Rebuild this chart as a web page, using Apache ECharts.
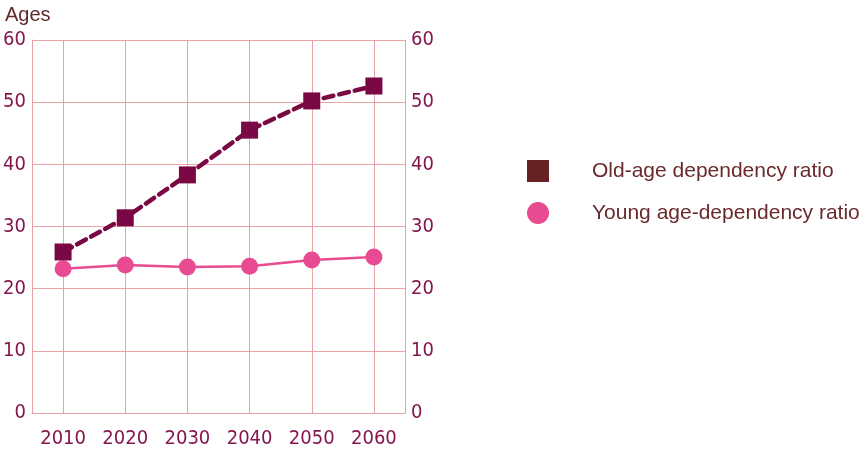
<!DOCTYPE html>
<html><head><meta charset="utf-8">
<script src="https://cdn.jsdelivr.net/npm/echarts@6/dist/echarts.min.js"></script>
<style>html,body{margin:0;padding:0;background:#fff}#c{width:866px;height:452px}</style>
</head><body><div id="c"></div>
<script>
const years = ['2010','2020','2030','2040','2050','2060'];
const oldAge = [25.9, 31.4, 38.3, 45.5, 50.2, 52.6];
const young = [23.2, 23.8, 23.5, 23.6, 24.6, 25.1];
const yTicks = [0, 10, 20, 30, 40, 50, 60];
const seriesNames = ['Old-age dependency ratio', 'Young age-dependency ratio'];
const axisTitle = 'Ages';

const gridColor = '#eaa4a8';
const labelColor = '#85174f';
const numFont = '"DejaVu Sans Condensed",sans-serif';

const chart = echarts.init(document.getElementById('c'), null, {renderer: 'canvas'});
const yAxisBase = {
  type: 'value', min: yTicks[0], max: yTicks[yTicks.length - 1], interval: 10,
  axisLine: {show: true, lineStyle: {color: gridColor, width: 1}},
  axisTick: {show: false},
  splitLine: {show: true, lineStyle: {color: gridColor, width: 1}},
  axisLabel: {color: labelColor, fontFamily: numFont, fontSize: 20, margin: 6}
};
chart.setOption({
  animation: false,
  grid: {left: 32, right: 461, top: 40, bottom: 39},
  title: {text: axisTitle, left: 0, top: 0, textStyle: {fontFamily: 'Liberation Sans, Arial, sans-serif', fontWeight: 'normal', fontSize: 20, color: '#5e2a2a'}},
  legend: {
    orient: 'vertical', left: 522, top: 155, itemWidth: 22, itemHeight: 22, itemGap: 20,
    textStyle: {fontFamily: 'Liberation Sans, Arial, sans-serif', fontSize: 21, color: '#6a2a2c', padding: [0, 0, 0, 38]},
    data: [
      {name: seriesNames[0], icon: 'rect', itemStyle: {color: '#672226'}},
      {name: seriesNames[1], icon: 'circle', itemStyle: {color: '#e84b92'}}
    ]
  },
  xAxis: {
    type: 'category', data: years, boundaryGap: true,
    axisLine: {show: true, lineStyle: {color: gridColor, width: 1}},
    axisTick: {show: false},
    splitLine: {show: true, alignWithLabel: true, interval: 0, lineStyle: {color: gridColor, width: 1}},
    axisLabel: {color: labelColor, fontFamily: numFont, fontSize: 20, margin: 16, interval: 0}
  },
  yAxis: [
    Object.assign({}, yAxisBase, {position: 'left'}),
    Object.assign({}, yAxisBase, {position: 'right', splitLine: {show: false}})
  ],
  series: [
    {
      name: seriesNames[0], type: 'line', data: oldAge, yAxisIndex: 0,
      symbol: 'rect', symbolSize: 17,
      itemStyle: {color: '#7a0844'},
      lineStyle: {color: '#7a0844', width: 4.5, type: [10, 6], cap: 'round'},
      z: 3
    },
    {
      name: seriesNames[1], type: 'line', data: young, yAxisIndex: 0,
      symbol: 'circle', symbolSize: 17,
      itemStyle: {color: '#e84b92'},
      lineStyle: {color: '#e84b92', width: 2.5},
      z: 2
    }
  ]
});
</script></body></html>
